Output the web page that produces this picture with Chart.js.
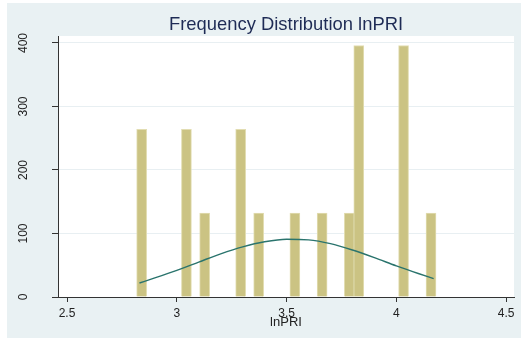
<!DOCTYPE html>
<html>
<head>
<meta charset="utf-8">
<script src="https://cdn.jsdelivr.net/npm/chart.js@4"></script>
<style>
  html, body { margin: 0; padding: 0; background: #fff; }
  #wrap { width: 521px; height: 344px; }
</style>
</head>
<body>
<div id="wrap"><canvas id="histChart"></canvas></div>
<script>
// histogram bins (centre of bin, frequency)
const binCenters = [2.84, 3.044, 3.127, 3.291, 3.373, 3.538, 3.662, 3.786, 3.829, 4.033, 4.158];
const frequencies = [264, 264, 132, 264, 132, 132, 132, 132, 396, 396, 132];

// normal curve
const curveX = [2.83, 2.9, 3.0, 3.1, 3.2, 3.3, 3.4, 3.5, 3.6, 3.7, 3.8, 3.9, 4.0, 4.1, 4.17];
const curveY = [22, 30, 42, 55, 68, 79, 87, 91, 90, 84, 74, 62, 49, 37, 29];

const xTicks = [2.5, 3, 3.5, 4, 4.5];
const yTicks = [0, 100, 200, 300, 400];

Chart.defaults.font.family = '"Liberation Sans", Arial, sans-serif';
Chart.defaults.color = '#222';

const background = {
    id: 'background',
    beforeDraw(chart) {
        const ctx = chart.ctx;
        const a = chart.chartArea;
        ctx.save();
        ctx.fillStyle = '#ffffff';
        ctx.fillRect(0, 0, chart.width, chart.height);
        ctx.fillStyle = '#E9F1F3';
        ctx.fillRect(7, 3, chart.width - 7, 335);
        ctx.fillStyle = '#ffffff';
        ctx.fillRect(a.left, a.top, a.right - a.left, a.bottom - a.top);
        ctx.restore();
    }
};

const ctx = document.getElementById('histChart').getContext('2d');
new Chart(ctx, {
    type: 'bar',
    data: {
        datasets: [{
            type: 'line',
            label: 'Normal',
            data: curveX.map((x, i) => ({ x: x, y: curveY[i] })),
            borderColor: '#2A746D',
            borderWidth: 1.4,
            pointRadius: 0,
            cubicInterpolationMode: 'monotone',
            order: 0
        }, {
            label: 'Frequency',
            data: binCenters.map((x, i) => ({ x: x, y: frequencies[i] })),
            backgroundColor: '#CBC383',
            borderColor: '#E2DDB2',
            borderWidth: 1,
            barThickness: 10,
            order: 1
        }]
    },
    options: {
        responsive: true,
        maintainAspectRatio: false,
        animation: false,
        layout: {
            padding: { left: 0, right: 7, top: 0, bottom: 0 }
        },
        plugins: {
            legend: { display: false },
            tooltip: { enabled: false },
            title: {
                display: true,
                fullSize: false,
                text: 'Frequency Distribution lnPRI',
                color: '#1E2B55',
                font: { size: 18.4, weight: 'normal', lineHeight: 1 },
                padding: { top: 16, bottom: 1.6 }
            }
        },
        scales: {
            x: {
                type: 'linear',
                offset: false,
                min: 2.459,
                max: 4.536,
                afterBuildTicks: function(scale) {
                    scale.ticks = xTicks.map(v => ({ value: v }));
                },
                afterFit: function(scale) {
                    scale.height = 47;
                },
                grid: {
                    offset: false,
                    drawOnChartArea: false,
                    tickLength: 5,
                    tickColor: '#333'
                },
                border: { color: '#333' },
                ticks: {
                    font: { size: 12 },
                    padding: 4,
                    maxRotation: 0,
                    callback: function(value) {
                        return String(value);
                    }
                },
                title: {
                    display: true,
                    text: 'lnPRI',
                    color: '#222',
                    font: { size: 13 },
                    padding: { top: 0, bottom: 14 }
                }
            },
            y: {
                min: 0,
                max: 411,
                afterBuildTicks: function(scale) {
                    scale.ticks = yTicks.map(v => ({ value: v }));
                },
                afterFit: function(scale) {
                    scale.width = 58;
                },
                grid: {
                    color: '#E8EFF2',
                    tickColor: '#333',
                    tickLength: 6
                },
                border: { color: '#333' },
                ticks: {
                    font: { size: 12 },
                    minRotation: 90,
                    maxRotation: 90,
                    crossAlign: 'center',
                    padding: 18
                }
            }
        }
    },
    plugins: [background]
});
</script>
</body>
</html>
